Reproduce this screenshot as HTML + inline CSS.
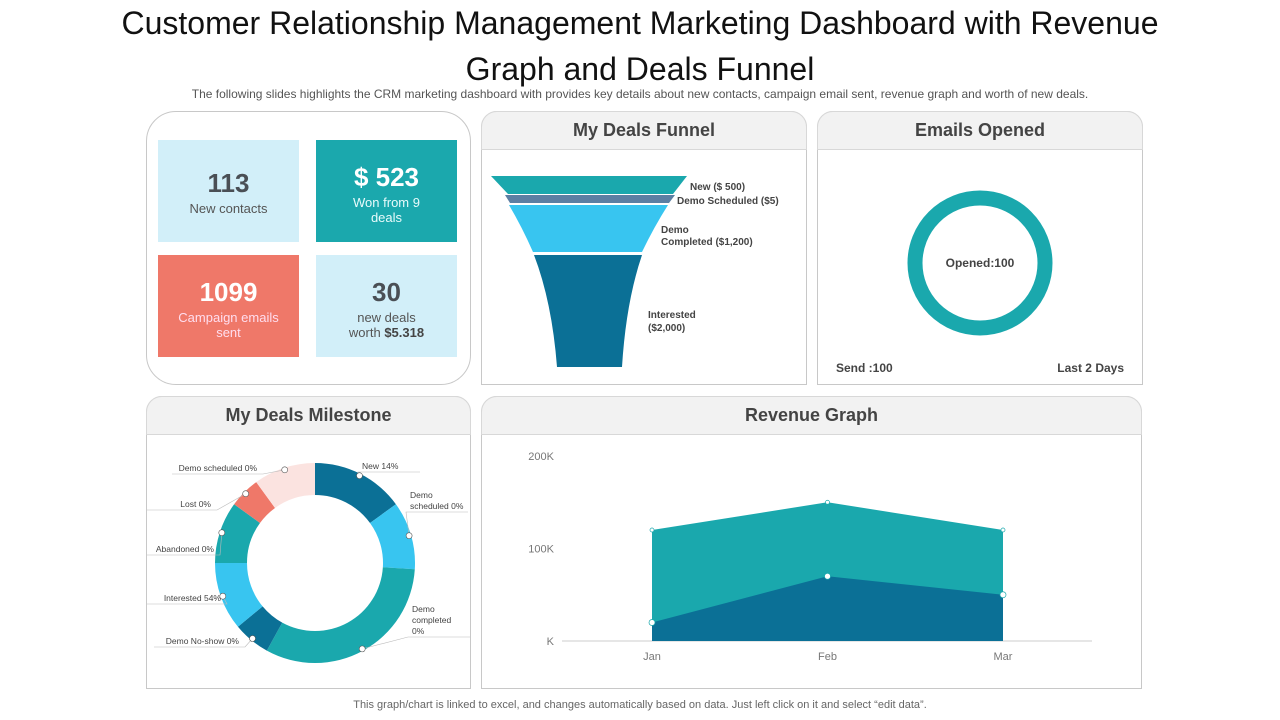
<!DOCTYPE html>
<html><head><meta charset="utf-8"><style>
body{margin:0;width:1280px;height:720px;background:#fff;font-family:"Liberation Sans",sans-serif;position:relative;overflow:hidden}
.abs{position:absolute}
.panel{position:absolute;border:1px solid #c8c8c8;background:#fff}
.hdr{position:absolute;left:-1px;right:-1px;top:-1px;height:37px;background:#f2f2f2;border:1px solid #d8d8d8;border-radius:16px 16px 0 0;text-align:center;font-weight:bold;font-size:18px;color:#444;line-height:37px}
.kpi{position:absolute;width:141px;height:102px;text-align:center;color:#555;font-size:13px}
.kpi b{display:block;font-size:26px;margin-top:28px;margin-bottom:2px}
</style></head><body>
<div class="abs" style="left:90px;width:1100px;top:0px;text-align:center;font-size:32px;line-height:46px;color:#111">Customer Relationship Management Marketing Dashboard with Revenue Graph and Deals Funnel</div>
<div class="abs" style="left:0;width:1280px;top:87px;text-align:center;font-size:12px;color:#555">The following slides highlights the CRM marketing dashboard with provides key details about new contacts, campaign email sent, revenue graph and worth of new deals.</div>

<div class="panel" style="left:146px;top:111px;width:323px;height:272px;border-radius:30px">
 <div class="kpi" style="left:11px;top:28px;background:#d2eff9">
  <b style="color:#4a4f55">113</b>New contacts</div>
 <div class="kpi" style="left:169px;top:28px;background:#1ba8ad;color:#e8fbfb"><b style="margin-top:22px;color:#fff">$ 523</b>Won from 9<br>deals</div>
 <div class="kpi" style="left:11px;top:143px;background:#ef7869;color:#fde"><b style="margin-top:22px;color:#fff">1099</b>Campaign emails<br>sent</div>
 <div class="kpi" style="left:169px;top:143px;background:#d2eff9"><b style="margin-top:22px;color:#4a4f55">30</b>new deals<br>worth <span style="color:#444;font-weight:bold">$5.318</span></div>
</div>

<div class="panel" style="left:481px;top:111px;width:324px;height:272px;border-radius:16px 16px 0 0">
 <div class="hdr">My Deals Funnel</div>
 <svg class="abs" style="left:0;top:0" width="324" height="272">
  <path d="M9 64 L205 64 L191 82 L26 82 Z" fill="#1aa8ad"/>
  <path d="M23 83 L193 83 L187 91 L28 91 Z" fill="#5c7fa3"/>
  <path d="M27 93 L186 93 Q172 115 160 140 L51 140 Q40 115 27 93 Z" fill="#38c5f0"/>
  <path d="M52 143 L160 143 Q144 190 140 255 L75 255 Q70 190 52 143 Z" fill="#0b7096"/>
  <g font-size="10" font-weight="bold" fill="#444">
  <text x="208" y="78">New ($ 500)</text>
  <text x="195" y="92">Demo Scheduled ($5)</text>
  <text x="179" y="121">Demo</text><text x="179" y="133">Completed ($1,200)</text>
  <text x="166" y="206">Interested</text><text x="166" y="219">($2,000)</text></g>
 </svg>
</div>

<div class="panel" style="left:817px;top:111px;width:324px;height:272px;border-radius:16px 16px 0 0">
 <div class="hdr">Emails Opened</div>
 <svg class="abs" style="left:0;top:0" width="324" height="272">
  <circle cx="162" cy="151" r="65" fill="none" stroke="#1aa8ad" stroke-width="15"/>
  <text x="162" y="155" text-anchor="middle" font-size="12" font-weight="bold" fill="#444">Opened:100</text>
  <text x="18" y="260" font-size="12" font-weight="bold" fill="#444">Send :100</text>
  <text x="306" y="260" text-anchor="end" font-size="12" font-weight="bold" fill="#444">Last 2 Days</text>
 </svg>
</div>

<div class="panel" style="left:146px;top:396px;width:323px;height:291px;border-radius:16px 16px 0 0">
 <div class="hdr">My Deals Milestone</div>
 <svg id="donut" class="abs" style="left:0;top:0" width="323" height="291"></svg>
</div>

<div class="panel" style="left:481px;top:396px;width:659px;height:291px;border-radius:16px 16px 0 0">
 <div class="hdr">Revenue Graph</div>
 <svg id="rev" class="abs" style="left:0;top:0" width="659" height="291"></svg>
</div>

<div class="abs" style="left:0;width:1280px;top:699px;text-align:center;font-size:11px;color:#666">This graph/chart is linked to excel, and changes automatically based on data. Just left click on it and select “edit data”.</div>

<script>
const NS="http://www.w3.org/2000/svg";
function mk(p,t,a){const e=document.createElementNS(NS,t);for(const k in a)e.setAttribute(k,a[k]);p.appendChild(e);return e;}
// Donut data
const segLabels=["New 14%","Demo scheduled 0%","Demo completed 0%","Demo No-show 0%","Interested 54%","Abandoned  0%","Lost 0%","Demo scheduled 0%"];
const segValues=[15,11,32,6,11,10,5,10];
const segColors=["#0b7096","#38c5f0","#1aa8ad","#0b7096","#38c5f0","#1aa8ad","#ef7869","#fbe3e0"];
const d=document.getElementById('donut');
const cx=168,cy=166,R=100,r=68;
const tot=segValues.reduce((a,b)=>a+b,0);
let acc=0;
const pt=(ang,rad)=>[cx+rad*Math.sin(ang),cy-rad*Math.cos(ang)];
const labelPos=[[215,72],[263,101,1],[265,215,2],[92,247],[74,204],[67,155],[64,110],[110,74]];
segValues.forEach((v,i)=>{
 const a0=acc/tot*2*Math.PI;acc+=v;const a1=acc/tot*2*Math.PI;
 const lg=(a1-a0)>Math.PI?1:0;
 const p1=pt(a0,R),p2=pt(a1,R),p3=pt(a1,r),p4=pt(a0,r);
 const s=mk(d,'path',{d:`M${p1} A${R} ${R} 0 ${lg} 1 ${p2} L${p3} A${r} ${r} 0 ${lg} 0 ${p4}Z`,fill:segColors[i]});
 
 
 const am=(a0+a1)/2,pm=pt(am,R-2);
 const right=Math.sin(am)>0;
 const lp=labelPos[i];
 const lines=(i==1)?["Demo","scheduled 0%"]:(i==2)?["Demo","completed","0%"]:[segLabels[i]];
 const ly=lp[1]+(lines.length-1)*11+3;
 mk(d,'polyline',{points:`${pm[0]},${pm[1]} ${right?lp[0]-4:lp[0]+6},${ly} ${right?lp[0]+58:lp[0]-85},${ly}`,fill:'none',stroke:'#bbb','stroke-width':0.6});
 mk(d,'circle',{cx:pm[0],cy:pm[1],r:3,fill:'#fff',stroke:'#555','stroke-width':0.6});
 lines.forEach((ln,j)=>{const t=mk(d,'text',{x:lp[0],y:lp[1]+j*11,'font-size':8.5,fill:'#444','text-anchor':right?'start':'end'});t.textContent=ln;});
});
// Revenue data
const months=["Jan","Feb","Mar"];
const seriesTop=[120,150,120];
const seriesBottom=[20,70,50];
const yTicks=[0,100,200];
const yTickLabels=["K","100K","200K"];
const g=document.getElementById('rev');
const X=i=>170+i*175.5, Y=v=>244-v*0.925;
yTicks.forEach((v,i)=>{const t=mk(g,'text',{x:72,y:Y(v)+4,'font-size':11,fill:'#777','text-anchor':'end'});t.textContent=yTickLabels[i];});
mk(g,'line',{x1:80,x2:610,y1:Y(0),y2:Y(0),stroke:'#ccc'});
function area(s,col){let p=`M${X(0)} ${Y(0)}`;s.forEach((v,i)=>p+=` L${X(i)} ${Y(v)}`);p+=` L${X(s.length-1)} ${Y(0)}Z`;const e=mk(g,'path',{d:p,fill:col});return e;}
const a1=area(seriesTop,'#1aa8ad');
const a2=area(seriesBottom,'#0b7096');
[seriesTop,seriesBottom].forEach((s,k)=>s.forEach((v,i)=>mk(g,'circle',{cx:X(i),cy:Y(v),r:k?3:2,fill:'#fff',stroke:'#1aa8ad','stroke-width':0.7})));
months.forEach((m,i)=>{const t=mk(g,'text',{x:X(i),y:263,'font-size':11,fill:'#777','text-anchor':'middle'});t.textContent=m;});
</script>
</body></html>
